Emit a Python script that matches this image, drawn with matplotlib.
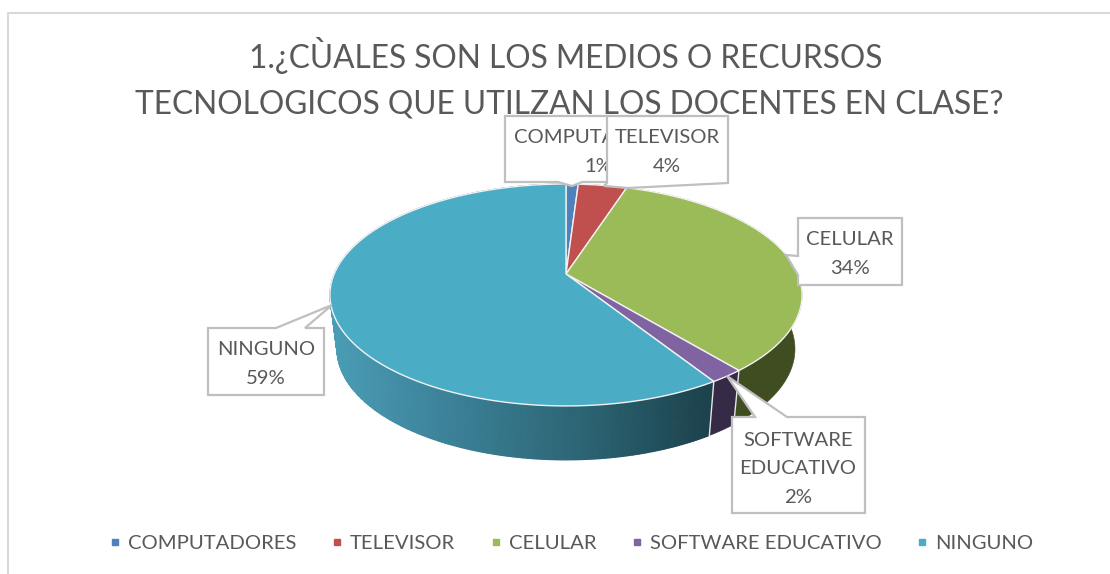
import numpy as np
import matplotlib
matplotlib.use('Agg')
import matplotlib.pyplot as plt
from matplotlib.colors import LinearSegmentedColormap
from matplotlib.lines import Line2D
from matplotlib.patches import Polygon

plt.rcParams['font.family'] = ['Lato', 'DejaVu Sans']

# data
categories = ['COMPUTADORES', 'TELEVISOR', 'CELULAR', 'SOFTWARE EDUCATIVO', 'NINGUNO']
values = [1, 4, 34, 2, 59]
top_colors = ['#4f81bd', '#c0504d', '#9bbb59', '#8064a2', '#4bacc6']
side_colors = ['#2a4565', '#672b29', '#3f4d20', '#362a47', None]
title_lines = ['1.¿CÙALES SON LOS MEDIOS O RECURSOS',
               'TECNOLOGICOS QUE UTILZAN LOS DOCENTES EN CLASE?']
label_texts = ['COMPUTADORES\n1%', 'TELEVISOR\n4%', 'CELULAR\n34%',
               'SOFTWARE\nEDUCATIVO\n2%', 'NINGUNO\n59%']

TEXT = '#595959'
BOX = '#bfbfbf'
teal_side = LinearSegmentedColormap.from_list(
    'teal_side', ['#4a9cb5', '#3a7f95', '#2c6473', '#1c424d'])

fig = plt.figure(figsize=(11.10, 5.74), dpi=100)
ax = fig.add_axes([0, 0, 1, 1])
ax.set_xlim(0, 1110)
ax.set_ylim(574, 0)
ax.axis('off')

# pie geometry in image pixels, tilted circle with some perspective
cx, cy = 566, 274
k = 0.189
a, b = 231.8, 107.0
depth = 54
shrink = 0.97


def top_rim(frac):
    t = 2 * np.pi * np.asarray(frac) / 100
    x, y = np.sin(t), -np.cos(t)
    d = 1 - k * y
    return cx + a * x / d, cy + b * y / d


def bottom_rim(frac):
    px, py = top_rim(frac)
    return cx + (px - cx) * shrink, py + depth


edges = np.concatenate([[0], np.cumsum(values)])

# sides, only the part that faces the viewer
for i in range(len(values)):
    steps = np.linspace(edges[i], edges[i + 1], 300)
    tx, ty = top_rim(steps)
    bx, by = bottom_rim(steps)
    if side_colors[i] is None:
        X = np.vstack([tx, bx])
        Y = np.vstack([ty, by])
        ax.pcolormesh(X, Y, np.clip((X - 337) / (710 - 337), 0, 1), cmap=teal_side,
                      vmin=0, vmax=1, shading='gouraud', zorder=2)
    else:
        pts = list(zip(tx, ty)) + list(zip(bx[::-1], by[::-1]))
        ax.add_patch(Polygon(pts, closed=True, facecolor=side_colors[i],
                             edgecolor=side_colors[i], linewidth=0.4, zorder=2))

# white lines between the slices on the side
for f in edges[1:-1]:
    if 30 < f < 60:
        x0, y0 = top_rim(f)
        x1, y1 = bottom_rim(f)
        ax.plot([x0, x1], [y0, y1], color='#e6e6e6', lw=1.0, zorder=3)

# top faces
for i in range(len(values)):
    steps = np.linspace(edges[i], edges[i + 1], 200)
    px, py = top_rim(steps)
    pts = [(cx, cy)] + list(zip(px, py))
    ax.add_patch(Polygon(pts, closed=True, facecolor=top_colors[i],
                         edgecolor='#f2f2f2', linewidth=1.0, zorder=4,
                         joinstyle='round'))

# chart frame
ax.plot([8, 8, 1110], [574, 13, 13], color='#d9d9d9', lw=1.5, zorder=1)

# title
ax.text(566, 56, title_lines[0], fontsize=22.8, color=TEXT, ha='center', va='center')
ax.text(569, 104, title_lines[1], fontsize=22.8, color=TEXT, ha='center', va='center')

# data label callouts, outline in pixels
label_shapes = [
    [(505, 116), (612, 116), (612, 182), (582, 182), (572, 186), (558, 182), (505, 182)],
    [(607, 116), (728, 116), (728, 183), (628, 188), (604, 186), (607, 183)],
    [(798, 218), (902, 218), (902, 285), (798, 285), (798, 275), (786, 255), (798, 256)],
    [(732, 417), (755, 417), (727, 376), (787, 417), (865, 417), (865, 513), (732, 513)],
    [(208, 328), (276, 328), (332, 305), (305, 328), (324, 328), (324, 395), (208, 395)],
]
label_pos = [(598, 152), (667, 152), (850, 254), (798, 469), (266, 364)]

for n, i in enumerate([0, 1, 4, 2, 3]):
    z = 5 + n * 2
    ax.add_patch(Polygon(label_shapes[i], closed=True, facecolor='white',
                         edgecolor=BOX, linewidth=1.6, zorder=z))
    ax.text(label_pos[i][0], label_pos[i][1], label_texts[i], fontsize=14.6, color=TEXT,
            ha='center', va='center', linespacing=1.84, zorder=z + 1)

# legend
handles = [Line2D([], [], linestyle='none', marker='s', markersize=5,
                  markerfacecolor=c, markeredgecolor=c) for c in top_colors]
ax.legend(handles, categories, loc='center', bbox_to_anchor=(572 / 1110, 1 - 543 / 574),
          ncol=5, frameon=False, fontsize=14.6, labelcolor=TEXT, handlelength=0.4,
          handletextpad=0.45, columnspacing=1.8, borderpad=0)

fig.savefig('out.png', dpi=100)
